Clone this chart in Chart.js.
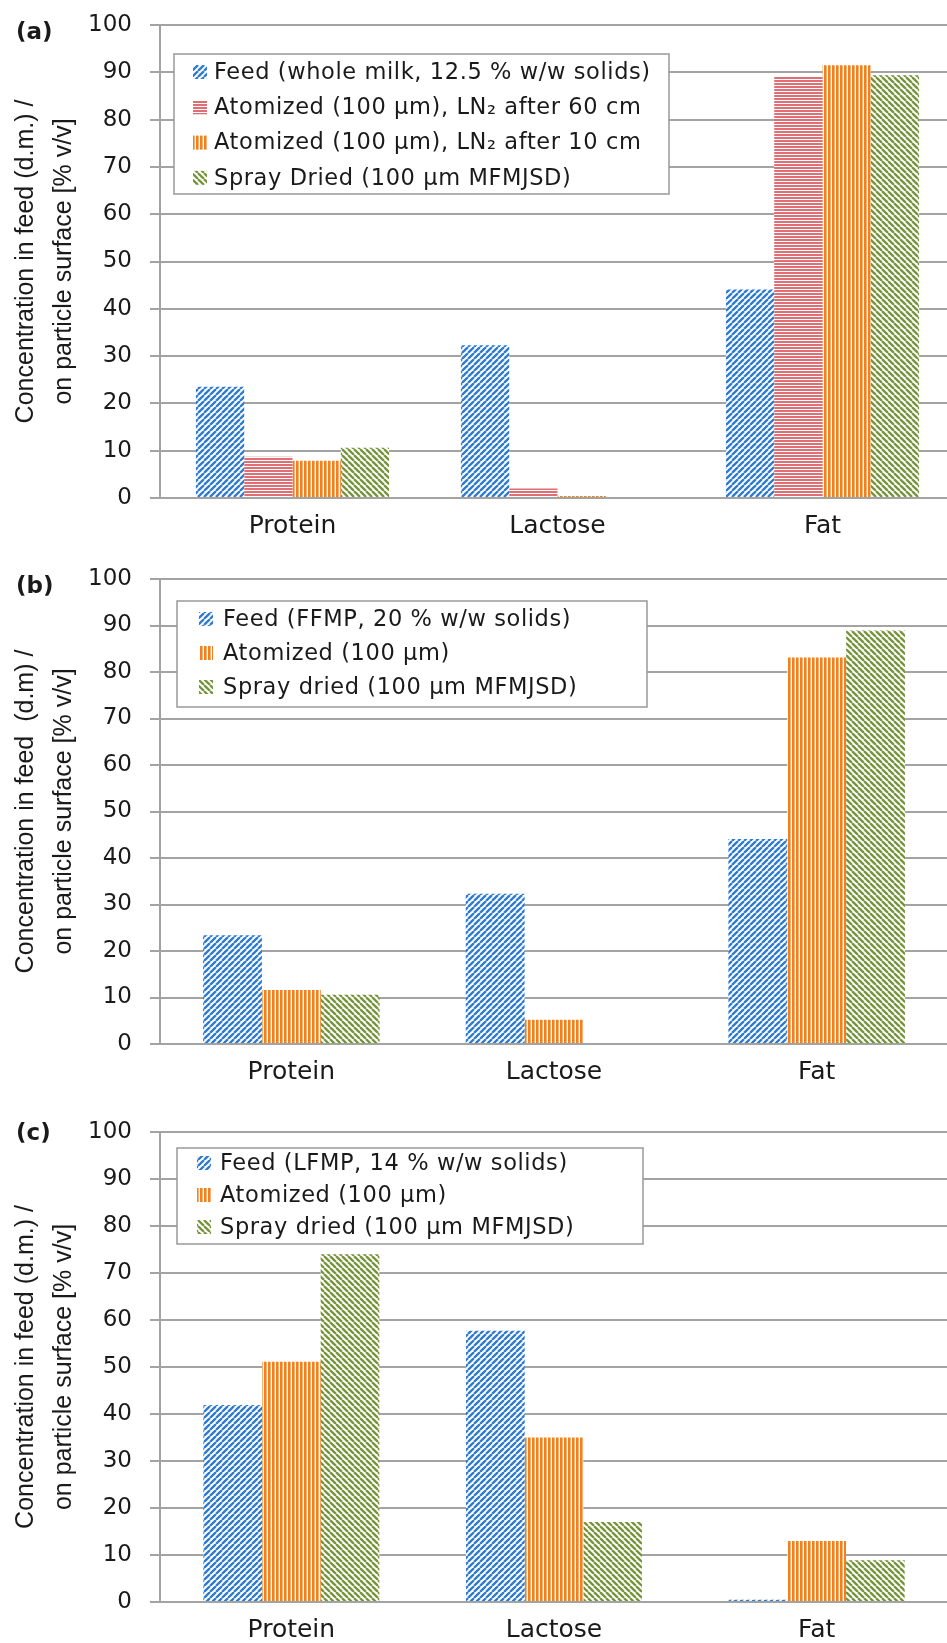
<!DOCTYPE html>
<html>
<head>
<meta charset="utf-8">
<script src="https://cdn.jsdelivr.net/npm/chart.js@4.4.0/dist/chart.umd.min.js"></script>
<style>
html, body { margin: 0; padding: 0; background: #fff; overflow: hidden; width: 947px; height: 1643px; }
.panel { position: absolute; left: 0; }
</style>
</head>
<body>
<div class="panel" style="top:5px"><canvas id="chartA" width="955" height="553"></canvas></div>
<div class="panel" style="top:559px"><canvas id="chartB" width="948" height="545"></canvas></div>
<div class="panel" style="top:1112px"><canvas id="chartC" width="948" height="550"></canvas></div>
<script>
// categories and axis
const categories = ['Protein', 'Lactose', 'Fat'];
const yMin = 0, yMax = 100, yStep = 10;

// (a) whole milk
const seriesNamesA = ['Feed (whole milk, 12.5 % w/w solids)', 'Atomized (100 µm), LN₂ after 60 cm', 'Atomized (100 µm), LN₂ after 10 cm', 'Spray Dried (100 µm MFMJSD)'];
const feedA   = [23.5, 32.3, 44.1];
const atom60A = [8.7, 2.0, 89.2];
const atom10A = [7.9, 0.4, 91.5];
const sprayA  = [10.6, 0, 89.4];

// (b) FFMP
const seriesNamesB = ['Feed (FFMP, 20 % w/w solids)', 'Atomized (100 µm)', 'Spray dried (100 µm MFMJSD)'];
const feedB  = [23.4, 32.3, 44.1];
const atomB  = [11.6, 5.2, 83.1];
const sprayB = [10.6, 0, 88.9];

// (c) LFMP
const seriesNamesC = ['Feed (LFMP, 14 % w/w solids)', 'Atomized (100 µm)', 'Spray dried (100 µm MFMJSD)'];
const feedC  = [41.9, 57.7, 0.5];
const atomC  = [51.1, 35.0, 13.0];
const sprayC = [74.0, 17.0, 8.9];

const BLUE = '#2e7bcf', RED = '#df6f74', ORANGE = '#f3801f', GREEN = '#76953a';
const TXT = '#1a1a1a', GRID = '#a3a3a3';
const SANS = '"DejaVu Sans", sans-serif';

function makePattern(kind, color) {
  const c = document.createElement('canvas');
  const g = c.getContext('2d');
  if (kind === 'fwd' || kind === 'back') {
    const s = 6;
    c.width = c.height = s;
    g.fillStyle = '#fff'; g.fillRect(0, 0, s, s);
    g.strokeStyle = color; g.lineWidth = 2.3;
    g.beginPath();
    for (let k = -1; k <= 1; k++) {
      if (kind === 'fwd') { g.moveTo(k * s, s); g.lineTo(k * s + s, 0); }
      else { g.moveTo(k * s, 0); g.lineTo(k * s + s, s); }
    }
    g.stroke();
  } else if (kind === 'horiz') {
    c.width = 4; c.height = 3;
    g.fillStyle = '#fff'; g.fillRect(0, 0, 4, 3);
    g.fillStyle = color; g.fillRect(0, 0, 4, 2);
  } else {
    c.width = 4; c.height = 4;
    g.fillStyle = '#fff'; g.fillRect(0, 0, 4, 4);
    g.fillStyle = color; g.fillRect(0, 0, 2.6, 4);
  }
  return g.createPattern(c, 'repeat');
}

const patFeed = makePattern('fwd', BLUE);
const pat60 = makePattern('horiz', RED);
const pat10 = makePattern('vert', ORANGE);
const patSpray = makePattern('back', GREEN);

// legend box drawn inside the plot, plus panel tag
const legendBox = {
  id: 'legendBox',
  afterDraw(chart, args, o) {
    const ctx = chart.ctx, top = chart.chartArea.top + o.y;
    ctx.save();
    ctx.fillStyle = '#fff';
    ctx.fillRect(o.x, top, o.w, o.h);
    ctx.strokeStyle = '#999'; ctx.lineWidth = 1.5;
    ctx.strokeRect(o.x, top, o.w, o.h);
    ctx.font = '22.5px ' + SANS;
    ctx.letterSpacing = '0.6px';
    ctx.textBaseline = 'middle';
    chart.data.datasets.forEach((ds, i) => {
      const cy = top + o.first + i * o.gap;
      ctx.fillStyle = ds.backgroundColor;
      ctx.fillRect(o.sx, cy - 7, 14, 14);
      ctx.fillStyle = TXT;
      ctx.fillText(ds.label, o.tx, cy + 1);
    });
    ctx.letterSpacing = '0px';
    ctx.font = 'bold 23px ' + SANS;
    ctx.fillText(o.tag, 16, chart.chartArea.top + o.tagY);
    ctx.restore();
  }
};

function makeChart(id, names, series, pats, catPct, title, legend) {
  const datasets = series.map((d, i) => ({
    label: names[i],
    data: d,
    backgroundColor: pats[i],
    borderWidth: 0,
    categoryPercentage: catPct,
    barPercentage: 1
  }));
  return new Chart(document.getElementById(id), {
    type: 'bar',
    data: { labels: categories, datasets: datasets },
    plugins: [legendBox],
    options: {
      responsive: false,
      animation: false,
      layout: { padding: { top: 20, left: 0, right: 0, bottom: 0 } },
      plugins: {
        legend: { display: false },
        tooltip: { enabled: false },
        legendBox: legend
      },
      scales: {
        x: {
          grid: { display: false, drawTicks: false },
          border: { display: false },
          ticks: { color: TXT, padding: 13, font: { family: SANS, size: 25 } },
          afterFit(s) { s.height = 60; s.paddingLeft = 0; s.paddingRight = 0; }
        },
        y: {
          min: yMin, max: yMax,
          ticks: { stepSize: yStep, color: TXT, padding: 18, font: { family: SANS, size: 23 } },
          grid: { color: GRID, lineWidth: 2, tickLength: 10 },
          border: { display: true, color: GRID, width: 2 },
          title: {
            display: true, text: title, color: TXT,
            padding: { top: 7, bottom: 0 },
            font: { family: '"Liberation Sans Narrow", "Arial Narrow", "Liberation Sans", sans-serif', size: 25, lineHeight: 1.52 }
          },
          afterFit(s) { s.width = 160; s.paddingTop = 0; s.paddingBottom = 0; }
        }
      }
    }
  });
}

makeChart('chartA', seriesNamesA, [feedA, atom60A, atom10A, sprayA], [patFeed, pat60, pat10, patSpray], 0.729,
  ['Concentration in feed (d.m.) /', 'on particle surface [% v/v]'],
  { x: 174, y: 29, w: 495, h: 140, first: 18, gap: 35.3, sx: 193, tx: 214, tag: '(a)', tagY: 8 });

makeChart('chartB', seriesNamesB, [feedB, atomB, sprayB], [patFeed, pat10, patSpray], 0.672,
  ['Concentration in feed  (d.m) /', 'on particle surface [% v/v]'],
  { x: 177, y: 22, w: 470, h: 106, first: 18, gap: 34, sx: 199, tx: 223, tag: '(b)', tagY: 8 });

makeChart('chartC', seriesNamesC, [feedC, atomC, sprayC], [patFeed, pat10, patSpray], 0.67,
  ['Concentration in feed (d.m.) /', 'on particle surface [% v/v]'],
  { x: 177, y: 16, w: 466, h: 96, first: 15, gap: 32, sx: 197, tx: 220, tag: '(c)', tagY: 2 });
</script>
</body>
</html>
